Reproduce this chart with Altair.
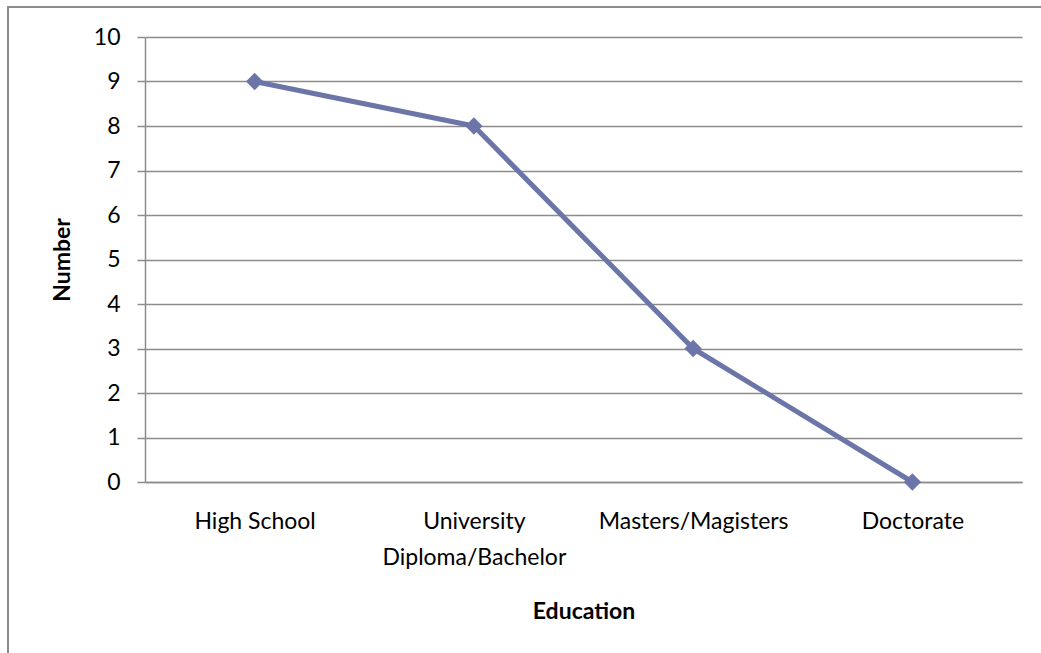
import altair as alt
import pandas as pd

# Survey respondents by highest education level
education = ["High School", "University Diploma/Bachelor", "Masters/Magisters", "Doctorate"]
number = [9, 8, 3, 0]

df = pd.DataFrame({"Education": education, "Number": number})

FONT = "Lato"
FS = 23
LINE_COLOR = "#6B75A8"
GRID_COLOR = "#8C8C8C"

W, H = 877, 445
PAD = {"left": 145, "top": 37, "right": 1041 - 145 - W, "bottom": 653 - 37 - H}

x_enc = alt.X(
    "Education:N",
    sort=education,
    scale=alt.Scale(paddingInner=0, paddingOuter=0.5),
    axis=alt.Axis(
        title="Education",
        titleFont=FONT,
        titleFontSize=FS,
        titleFontWeight="bold",
        titleColor="#000000",
        titleY=129,
        titleBaseline="middle",
        labelFont=FONT,
        labelFontSize=FS,
        labelColor="#000000",
        labelAngle=0,
        labelBaseline="top",
        labelPadding=28,
        labelLineHeight=36,
        labelLimit=0,
        labelOverlap=False,
        labelExpr="datum.value == 'University Diploma/Bachelor' ? ['University', 'Diploma/Bachelor'] : datum.value",
        ticks=False,
        domainColor=GRID_COLOR,
        domainWidth=1.5,
        grid=False,
    ),
)

y_enc = alt.Y(
    "Number:Q",
    scale=alt.Scale(domain=[0, 10], nice=False),
    axis=alt.Axis(
        title="Number",
        titleFont=FONT,
        titleFontSize=FS,
        titleFontWeight="bold",
        titleColor="#000000",
        titleX=-83,
        titleY=H / 2,
        titleAngle=270,
        titleBaseline="middle",
        titleAlign="center",
        values=list(range(0, 11)),
        labelFont=FONT,
        labelFontSize=FS,
        labelColor="#000000",
        labelPadding=17,
        tickSize=8,
        tickColor=GRID_COLOR,
        tickWidth=1.5,
        domainColor=GRID_COLOR,
        domainWidth=1.5,
        grid=True,
        gridColor=GRID_COLOR,
        gridWidth=1.5,
    ),
)

line = alt.Chart(df).mark_line(
    color=LINE_COLOR, strokeWidth=5, strokeJoin="round"
).encode(x=x_enc, y=y_enc)

points = alt.Chart(df).mark_point(
    shape="diamond", filled=True, size=300, color=LINE_COLOR, opacity=1
).encode(x=alt.X("Education:N", sort=education), y="Number:Q")

# outer frame of the chart area
frame = alt.Chart(alt.Data(values=[{}])).mark_rect(
    fill=None, stroke=GRID_COLOR, strokeWidth=2, clip=False
).encode(
    x=alt.value(-137),
    x2=alt.value(W + 60),
    y=alt.value(-30),
    y2=alt.value(H + 220),
)

chart = alt.layer(frame, line, points).properties(
    width=W,
    height=H,
    padding=PAD,
    autosize=alt.AutoSizeParams(type="none"),
    background="#FFFFFF",
).configure_view(stroke=None)

chart.save("out.html", embed_options={"renderer": "svg", "actions": False})
